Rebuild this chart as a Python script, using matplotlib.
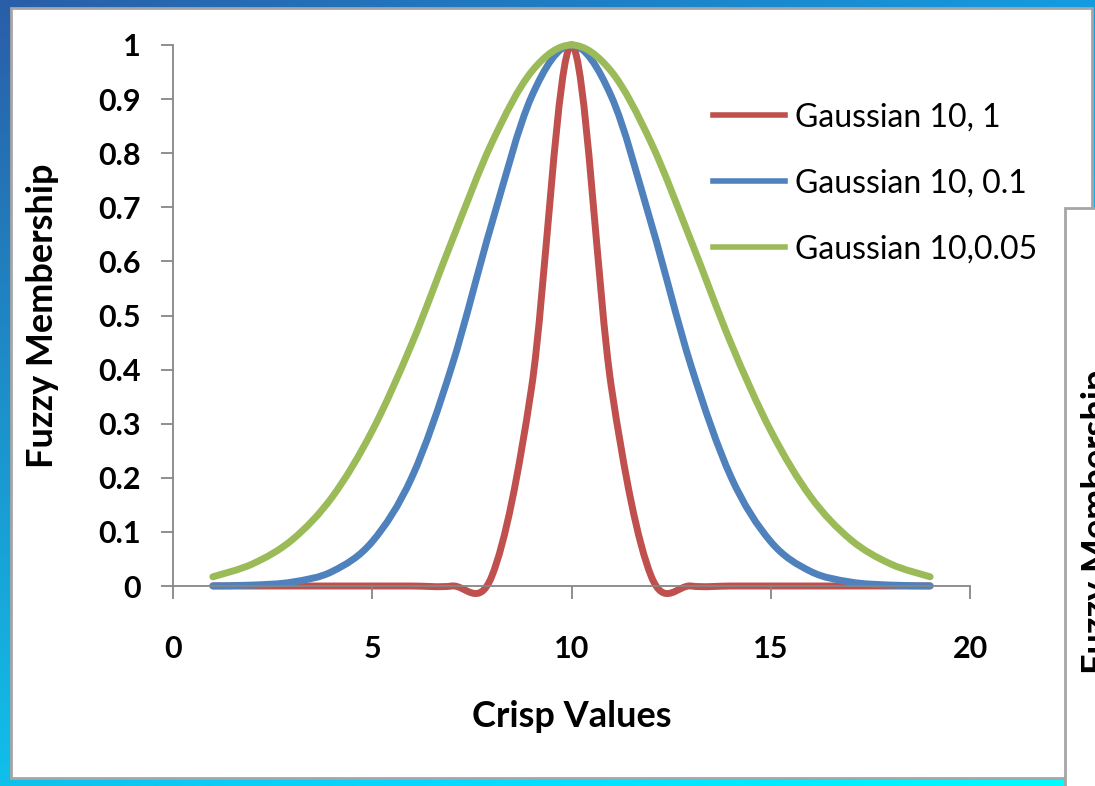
import numpy as np
import matplotlib
matplotlib.use('Agg')
import matplotlib.pyplot as plt
from matplotlib.path import Path
from matplotlib.patches import PathPatch, Rectangle
from matplotlib.lines import Line2D

plt.rcParams['font.family'] = ['Lato', 'DejaVu Sans']

# membership of each crisp value for the three gaussian sets (centre 10)
crisp = [1, 2, 3, 4, 5, 6, 7, 8, 9, 10, 11, 12, 13, 14, 15, 16, 17, 18, 19]
gauss_10_1 = [0.0, 0.0, 0.0, 0.0, 0.0, 0.0, 0.0, 0.018, 0.368, 1.0,
              0.368, 0.018, 0.0, 0.0, 0.0, 0.0, 0.0, 0.0, 0.0]
gauss_10_01 = [0.0003, 0.0017, 0.0074, 0.027, 0.082, 0.202, 0.407, 0.670, 0.905, 1.0,
               0.905, 0.670, 0.407, 0.202, 0.082, 0.027, 0.0074, 0.0017, 0.0003]
gauss_10_005 = [0.017, 0.041, 0.086, 0.165, 0.287, 0.449, 0.638, 0.819, 0.951, 1.0,
                0.951, 0.819, 0.638, 0.449, 0.287, 0.165, 0.086, 0.041, 0.017]

series = [gauss_10_1, gauss_10_01, gauss_10_005]
names = ['Gaussian 10, 1', 'Gaussian 10, 0.1', 'Gaussian 10,0.05']
colors = ['#C0504D', '#4F81BD', '#9BBB59']

x_ticks = [0, 5, 10, 15, 20]
y_ticks = [0, 0.1, 0.2, 0.3, 0.4, 0.5, 0.6, 0.7, 0.8, 0.9, 1.0]
y_labels = ['0', '0.1', '0.2', '0.3', '0.4', '0.5', '0.6', '0.7', '0.8', '0.9', '1']


def smooth_path(xs, ys):
    # smoothed line like a spreadsheet chart: one cubic bezier per segment
    pts = np.column_stack([xs, ys]).astype(float)
    ext = np.vstack([pts[0], pts, pts[-1]])
    verts = [pts[0]]
    codes = [Path.MOVETO]
    for i in range(len(pts) - 1):
        p0, p1, p2, p3 = ext[i], ext[i + 1], ext[i + 2], ext[i + 3]
        verts += [p1 + (p2 - p0) / 6, p2 - (p3 - p1) / 6, p2]
        codes += [Path.CURVE4] * 3
    return Path(verts, codes)


W, H = 1095, 786
fig = plt.figure(figsize=(W / 100, H / 100), dpi=100)

# slide background and the white chart panels
bg = fig.add_axes([0, 0, 1, 1], zorder=0)
bg.axis('off')
tl = np.array([0x2a, 0x5e, 0xa8]) / 255
tr = np.array([0x14, 0x9c, 0xe0]) / 255
bl = np.array([0x10, 0xc0, 0xea]) / 255
u = np.linspace(0, 1, 200)[None, :, None]
v = np.linspace(0, 1, 200)[:, None, None]
grad = np.clip(tl + u * (tr - tl) + v * (bl - tl), 0, 1)
bg.imshow(grad, extent=[0, 1, 0, 1], aspect='auto', origin='upper')
bg.add_patch(Rectangle((11 / W, 1 - 778 / H), 1081 / W, 770 / H,
                       facecolor='white', edgecolor='#a6a6a6', lw=2))
bg.add_patch(Rectangle((1065 / W, 1 - 978 / H), 1081 / W, 770 / H,
                       facecolor='white', edgecolor='#a6a6a6', lw=2))
bg.set_xlim(0, 1)
bg.set_ylim(0, 1)
fig.text(1097 / W, 1 - 522 / H, 'Fuzzy Membership', rotation=90,
         ha='center', va='center', fontsize=26, fontweight='bold')

ax = fig.add_axes([173 / W, 1 - 586 / H, 797 / W, 541 / H], zorder=1)
ax.patch.set_alpha(0)

for vals, c in zip(series, colors):
    ax.add_patch(PathPatch(smooth_path(crisp, vals), fill=False, edgecolor=c,
                           lw=5, capstyle='round', joinstyle='round', clip_on=False))

ax.set_xlim(0, 20)
ax.set_ylim(0, 1)
ax.set_xticks(x_ticks)
ax.set_xticklabels([str(t) for t in x_ticks])
ax.set_yticks(y_ticks)
ax.set_yticklabels(y_labels)
for s in ['top', 'right']:
    ax.spines[s].set_visible(False)
for s in ['left', 'bottom']:
    ax.spines[s].set_color('#868686')
    ax.spines[s].set_linewidth(1.3)
ax.tick_params(axis='both', colors='#868686', width=1.3, length=9,
               labelcolor='black', labelsize=22)
ax.tick_params(axis='y', pad=14)
ax.tick_params(axis='x', pad=26)
for lab in ax.get_xticklabels() + ax.get_yticklabels():
    lab.set_fontweight('bold')

ax.set_xlabel('Crisp Values', fontsize=26, fontweight='bold')
ax.xaxis.set_label_coords(0.5, -0.242)
ax.xaxis.label.set_va('center')
ax.set_ylabel('Fuzzy Membership', fontsize=26, fontweight='bold')
ax.yaxis.set_label_coords(-0.164, 0.5)
ax.yaxis.label.set_va('center')

handles = [Line2D([], [], color=c, lw=4) for c in colors]
ax.legend(handles, names, loc='upper left', bbox_to_anchor=(0.6775, 0.894),
          frameon=False, fontsize=23, handlelength=2.25, handletextpad=0.32,
          labelspacing=1.13, borderpad=0, borderaxespad=0)

fig.savefig('out.png', dpi=100)
